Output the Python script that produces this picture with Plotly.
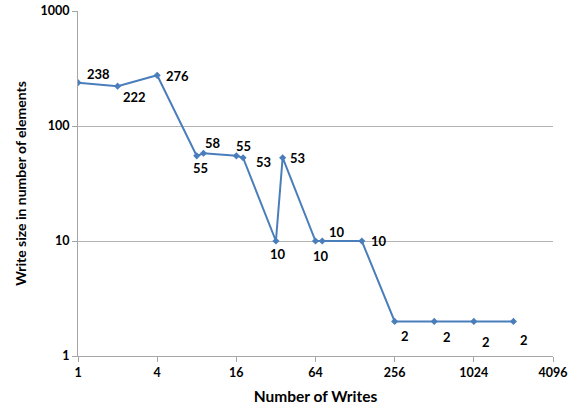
import math
import plotly.graph_objects as go

# Number of writes vs. write size (elements)
writes = [1, 2, 4, 8, 9, 16, 18, 32, 36, 64, 72, 144, 256, 512, 1024, 2048]
sizes = [238, 222, 276, 55, 58, 55, 53, 10, 53, 10, 10, 10, 2, 2, 2, 2]
x_ticks = [1, 4, 16, 64, 256, 1024, 4096]
y_ticks = [1, 10, 100, 1000]

# label offsets in pixels (dx, dy) for each data label
label_offsets = [
    (20, 9), (17, -11), (20, -1), (4, -12), (10, 10), (7, 10), (20, -4),
    (2, -13), (15, 0), (5, -15), (15, 9), (17, 0), (10, -15), (13, -16),
    (12, -21), (11, -19),
]

BLUE = "#4A7EBB"
FONT = "Lato"

fig = go.Figure()
fig.add_trace(go.Scatter(
    x=writes, y=sizes, mode="lines+markers",
    line=dict(color=BLUE, width=2),
    marker=dict(symbol="diamond", size=5.5, color=BLUE),
    showlegend=False, hoverinfo="x+y",
))

# annotations on log axes are placed in log10 units
for xv, yv, (dx, dy) in zip(writes, sizes, label_offsets):
    fig.add_annotation(
        x=math.log10(xv), y=math.log10(yv), xref="x", yref="y",
        text=str(yv), showarrow=False, xshift=dx, yshift=dy,
        font=dict(family=FONT, size=13, color="#000000", weight="bold"),
    )

fig.update_xaxes(
    type="log", range=[0, math.log10(4096)], tickvals=x_ticks,
    ticktext=[str(v) for v in x_ticks], automargin=False,
    showgrid=False, showline=True, linecolor="#A6A6A6", linewidth=1,
    ticks="outside", ticklen=5, tickcolor="#A6A6A6",
    tickfont=dict(family=FONT, size=12.5, color="#000000", weight="bold"),
    title=dict(text="Number of Writes", standoff=12,
               font=dict(family=FONT, size=15.5, color="#000000", weight="bold")),
    zeroline=False,
)
fig.update_yaxes(
    type="log", range=[0, 3], tickvals=y_ticks,
    ticktext=[str(v) for v in y_ticks], automargin=False,
    showgrid=True, gridcolor="#B3B3B3", gridwidth=1,
    showline=True, linecolor="#A6A6A6", linewidth=1,
    ticks="outside", ticklen=5, tickcolor="#A6A6A6",
    tickfont=dict(family=FONT, size=12.5, color="#000000", weight="bold"),
    title=dict(text="Write size in number of elements", standoff=10,
               font=dict(family=FONT, size=14, color="#000000", weight="bold")),
    zeroline=False,
)
fig.update_layout(
    width=577, height=409,
    margin=dict(l=78, r=24, t=11, b=53),
    paper_bgcolor="white", plot_bgcolor="white",
)
fig.write_html("out.html")
